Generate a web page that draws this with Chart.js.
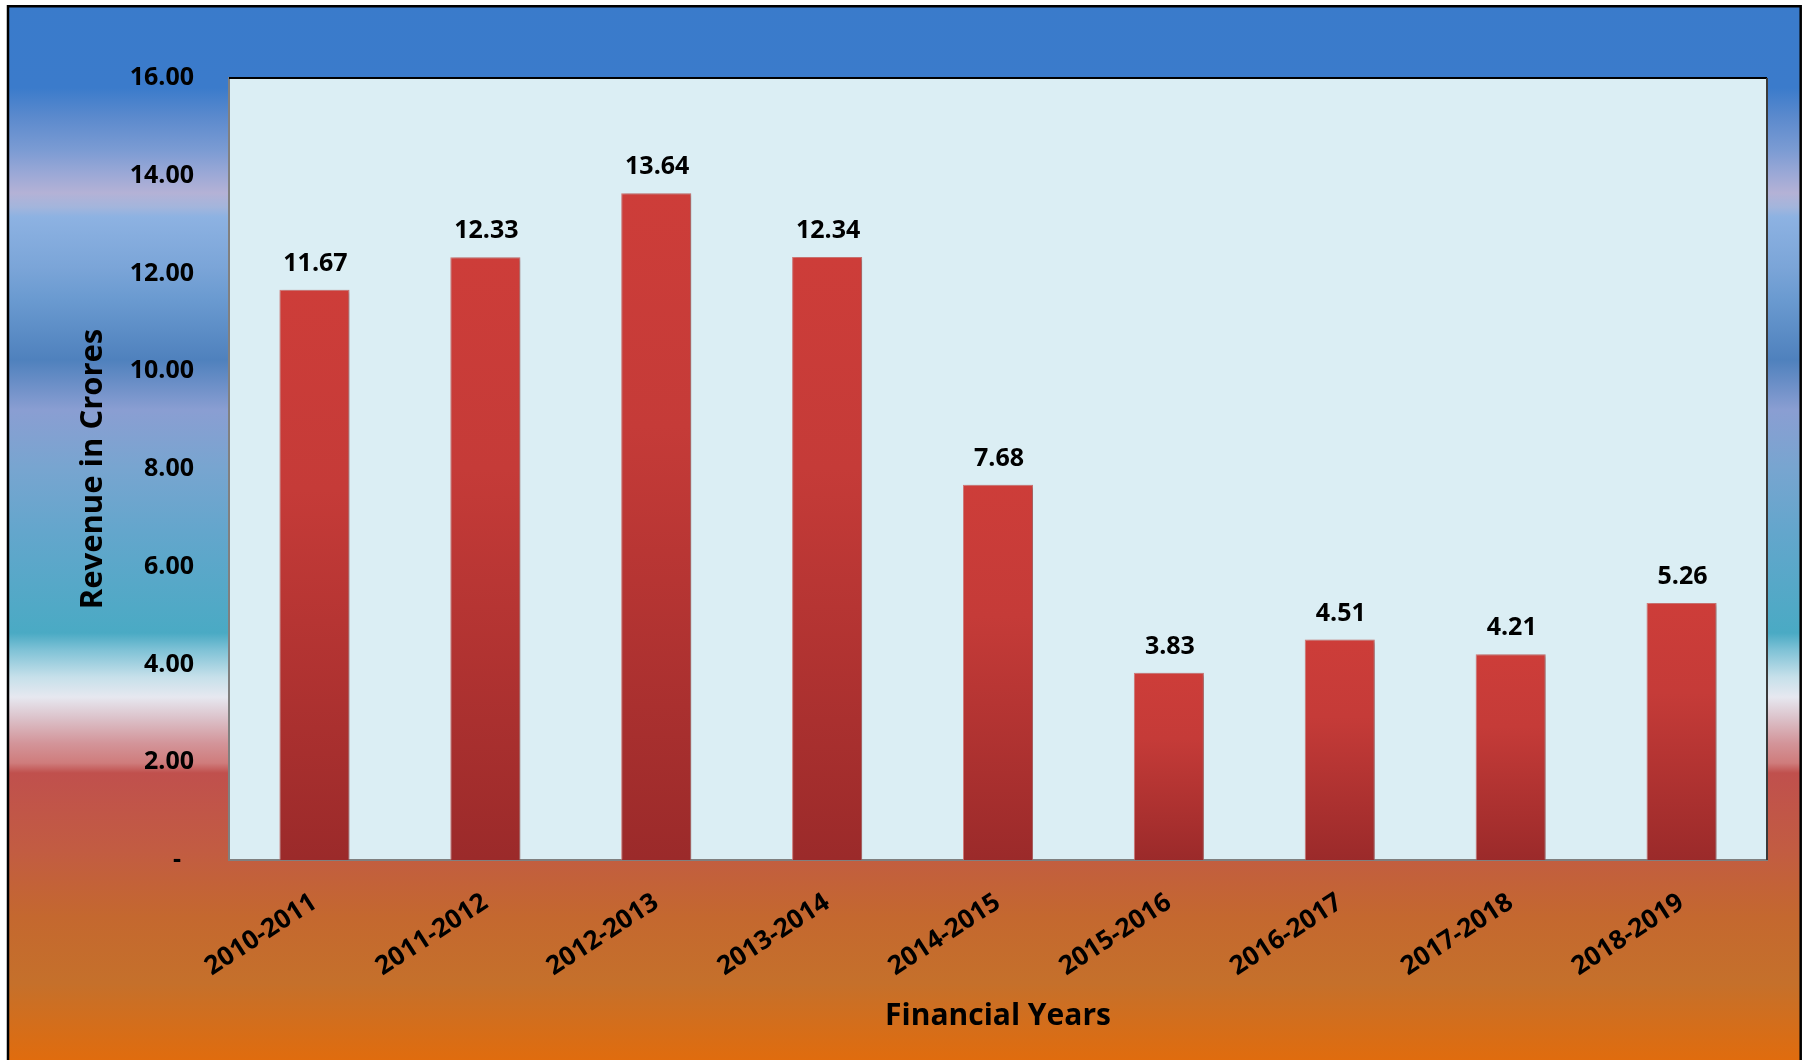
<!DOCTYPE html>
<html>
<head>
<meta charset="utf-8">
<title>Revenue in Crores</title>
<script src="https://cdn.jsdelivr.net/npm/chart.js@4.4.0/dist/chart.umd.min.js"></script>
<style>
  html, body { margin: 0; padding: 0; background: #ffffff; }
  #chart { display: block; }
</style>
</head>
<body>
<canvas id="chart" width="1807" height="1060"></canvas>
<script>
// Chart data
const financialYears = [
  "2010-2011", "2011-2012", "2012-2013", "2013-2014", "2014-2015",
  "2015-2016", "2016-2017", "2017-2018", "2018-2019",
];
const revenueCrores = [11.67, 12.33, 13.64, 12.34, 7.68, 3.83, 4.51, 4.21, 5.26];

// Y axis range
const yMin = 0;
const yMax = 16;
const yStep = 2;

const FONT = "'Open Sans', Lato, 'DejaVu Sans', sans-serif";

// Background gradient of the whole chart (y in canvas pixels -> colour)
const bgStops = [
  [0, "#3A7BCB"], [88, "#3B7BCB"], [117, "#5B8ACD"], [150, "#7B9BD3"],
  [173, "#9AA8D6"], [193, "#B4B2D6"], [207, "#A3B5DC"], [217, "#8DB2E2"],
  [267, "#7BA5D8"], [300, "#6A9AD0"], [360, "#4F81BD"], [410, "#8A9ED2"],
  [467, "#78A5D0"], [533, "#63A6CC"], [633, "#4AAAC4"], [650, "#7FC2D6"],
  [677, "#C6E0EA"], [697, "#E6E8F0"], [717, "#DCC4CC"], [743, "#D3959A"],
  [763, "#CF7C7C"], [773, "#C0504D"], [850, "#C25C42"], [917, "#C4682F"],
  [983, "#C5702B"], [1060, "#E06C0E"],
];

// Draws the outer gradient frame and the light plot area
const backgroundPlugin = {
  id: "background",
  beforeDraw(chart) {
    const ctx = chart.ctx;
    const H = chart.height;
    ctx.save();
    ctx.fillStyle = "#ffffff";
    ctx.fillRect(0, 0, chart.width, H);

    const grad = ctx.createLinearGradient(0, 0, 0, H);
    bgStops.forEach(([y, c]) => grad.addColorStop(y / H, c));
    ctx.fillStyle = grad;
    ctx.fillRect(8, 6, 1793, H - 6);

    // black frame (left, top, right)
    ctx.strokeStyle = "#000000";
    ctx.lineWidth = 2.5;
    ctx.beginPath();
    ctx.moveTo(8, H);
    ctx.lineTo(8, 6.2);
    ctx.lineTo(1800.7, 6.2);
    ctx.lineTo(1800.7, H);
    ctx.stroke();

    // plot area fill
    const a = chart.chartArea;
    ctx.fillStyle = "#DBEEF4";
    ctx.fillRect(a.left, a.top, a.right - a.left, a.bottom - a.top);
    ctx.restore();
  },
  afterDraw(chart) {
    const ctx = chart.ctx;
    const a = chart.chartArea;
    ctx.save();
    ctx.strokeStyle = "#000000";
    ctx.lineWidth = 2;
    ctx.beginPath();
    ctx.moveTo(a.left, a.top);
    ctx.lineTo(a.right, a.top);
    ctx.stroke();
    ctx.strokeStyle = "#3a3a3a";
    ctx.beginPath();
    ctx.moveTo(a.right, a.top);
    ctx.lineTo(a.right, a.bottom);
    ctx.stroke();
    ctx.restore();
  },
};

// Soft shadow under the bars + value labels on top
const barLabelPlugin = {
  id: "barLabels",
  beforeDatasetsDraw(chart) {
    const ctx = chart.ctx;
    ctx.save();
    ctx.shadowColor = "rgba(0, 0, 0, 0.3)";
    ctx.shadowBlur = 4;
    ctx.shadowOffsetX = 2;
    ctx.shadowOffsetY = 1;
  },
  afterDatasetsDraw(chart) {
    const ctx = chart.ctx;
    ctx.restore();
    ctx.save();
    ctx.font = "bold 25px " + FONT;
    ctx.fillStyle = "#000000";
    ctx.textAlign = "center";
    ctx.textBaseline = "alphabetic";
    const meta = chart.getDatasetMeta(0);
    meta.data.forEach((bar, i) => {
      ctx.fillText(revenueCrores[i].toFixed(2), bar.x + 1, bar.y - 19);
    });
    ctx.restore();
  },
};

// Each bar gets its own top-to-bottom red gradient
function barGradient(context) {
  const chart = context.chart;
  const area = chart.chartArea;
  if (!area || context.dataIndex === undefined) return "#C0392F";
  const yScale = chart.scales.y;
  const top = yScale.getPixelForValue(revenueCrores[context.dataIndex]);
  const bottom = yScale.getPixelForValue(0);
  const g = chart.ctx.createLinearGradient(0, top, 0, bottom);
  g.addColorStop(0, "#CD3D39");
  g.addColorStop(0.35, "#C53B38");
  g.addColorStop(1, "#9B2A2A");
  return g;
}

new Chart(document.getElementById("chart"), {
  type: "bar",
  data: {
    labels: financialYears,
    datasets: [
      {
        label: "Revenue in Crores",
        data: revenueCrores,
        backgroundColor: barGradient,
        borderColor: "rgba(214, 110, 108, 0.9)",
        borderWidth: 1,
        borderSkipped: "bottom",
        barPercentage: 0.41,
        categoryPercentage: 1.0,
      },
    ],
  },
  options: {
    responsive: false,
    animation: false,
    devicePixelRatio: 1,
    layout: { padding: { left: 0, top: 78, right: 40, bottom: 0 } },
    plugins: {
      legend: { display: false },
      tooltip: { enabled: false },
    },
    scales: {
      x: {
        z: 1,
        grid: { display: false, drawTicks: false },
        border: { display: true, color: "#808080", width: 2 },
        ticks: {
          color: "#000000",
          font: { family: FONT, size: 26, weight: "bold" },
          minRotation: 33,
          maxRotation: 33,
          padding: 27,
        },
        title: {
          display: true,
          text: "Financial Years",
          color: "#000000",
          font: { family: FONT, size: 30, weight: "bold" },
          padding: { top: 0, bottom: 26 },
        },
        afterFit(scale) {
          scale.height = 200;
        },
      },
      y: {
        z: 1,
        min: yMin,
        max: yMax,
        grid: { display: false, drawTicks: false },
        border: { display: true, color: "#808080", width: 2 },
        ticks: {
          stepSize: yStep,
          color: "#000000",
          font: { family: FONT, size: 25, weight: "bold" },
          padding: 35,
          callback: (value) => (value === 0 ? "-  " : value.toFixed(2)),
        },
        title: {
          display: true,
          text: "Revenue in Crores",
          color: "#000000",
          font: { family: FONT, size: 31, weight: "bold" },
          padding: { top: 75, bottom: 0 },
        },
        afterFit(scale) {
          scale.width = 229;
        },
      },
    },
  },
  plugins: [backgroundPlugin, barLabelPlugin],
});
</script>
</body>
</html>
